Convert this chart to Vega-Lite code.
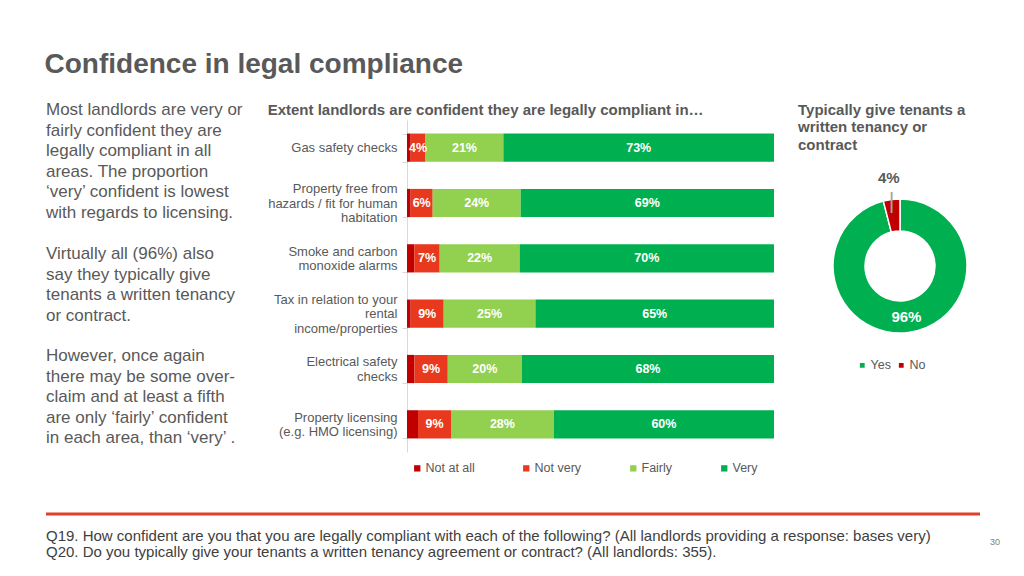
{
  "$schema": "https://vega.github.io/schema/vega-lite/v6.json",
  "background": "white",
  "padding": {"left": 44, "top": 50, "right": 0, "bottom": 0},
  "title": {"text": "Confidence in legal compliance", "anchor": "start", "fontSize": 28, "fontWeight": "bold", "color": "#595959", "offset": 22.5, "font": "Liberation Sans"},
  "config": {"view": {"stroke": null}, "font": "Liberation Sans"},
  "spacing": 394,
  "bounds": "flush",
  "vconcat": [
    {
      "bounds": "flush",
      "spacing": 26,
      "resolve": {"scale": {"color": "independent"}, "legend": {"color": "independent"}},
      "hconcat": [
        {
          "width": 335,
          "height": 332,
          "data": {"values": [
            {"para": 1, "note": "Most landlords are very or\nfairly confident they are\nlegally compliant in all\nareas. The proportion\n‘very’ confident is lowest\nwith regards to licensing."},
            {"para": 2, "note": "Virtually all (96%) also\nsay they typically give\ntenants a written tenancy\nor contract."},
            {"para": 3, "note": "However, once again\nthere may be some over-\nclaim and at least a fifth\nare only ‘fairly’ confident\nin each area, than ‘very’ ."}
          ]},
          "layer": [
            {
              "transform": [{"filter": "datum.para === 1"}],
              "mark": {"type": "text", "align": "left", "baseline": "alphabetic", "fontSize": 17, "lineHeight": 20.6, "lineBreak": "\n", "color": "#595959"},
              "encoding": {"text": {"field": "note"}, "x": {"value": 0}, "y": {"value": -5}}
            },
            {
              "transform": [{"filter": "datum.para === 2"}],
              "mark": {"type": "text", "align": "left", "baseline": "alphabetic", "fontSize": 17, "lineHeight": 20.6, "lineBreak": "\n", "color": "#595959"},
              "encoding": {"text": {"field": "note"}, "x": {"value": 0}, "y": {"value": 139}}
            },
            {
              "transform": [{"filter": "datum.para === 3"}],
              "mark": {"type": "text", "align": "left", "baseline": "alphabetic", "fontSize": 17, "lineHeight": 20.6, "lineBreak": "\n", "color": "#595959"},
              "encoding": {"text": {"field": "note"}, "x": {"value": 0}, "y": {"value": 241}}
            }
          ]
        },
        {
          "width": 367,
          "height": 332,
          "title": {"text": "Extent landlords are confident they are legally compliant in…", "anchor": "start", "frame": "bounds", "fontSize": 15, "fontWeight": "bold", "color": "#595959", "offset": -4},
          "data": {"values": [
            {"item": "Gas safety checks", "resp": "Not at all", "k": 1, "pct": 0.01},
            {"item": "Gas safety checks", "resp": "Not very", "k": 2, "pct": 0.04},
            {"item": "Gas safety checks", "resp": "Fairly", "k": 3, "pct": 0.21},
            {"item": "Gas safety checks", "resp": "Very", "k": 4, "pct": 0.73},
            {"item": "Property free from|hazards / fit for human|habitation", "resp": "Not at all", "k": 1, "pct": 0.01},
            {"item": "Property free from|hazards / fit for human|habitation", "resp": "Not very", "k": 2, "pct": 0.06},
            {"item": "Property free from|hazards / fit for human|habitation", "resp": "Fairly", "k": 3, "pct": 0.24},
            {"item": "Property free from|hazards / fit for human|habitation", "resp": "Very", "k": 4, "pct": 0.69},
            {"item": "Smoke and carbon|monoxide alarms", "resp": "Not at all", "k": 1, "pct": 0.02},
            {"item": "Smoke and carbon|monoxide alarms", "resp": "Not very", "k": 2, "pct": 0.07},
            {"item": "Smoke and carbon|monoxide alarms", "resp": "Fairly", "k": 3, "pct": 0.22},
            {"item": "Smoke and carbon|monoxide alarms", "resp": "Very", "k": 4, "pct": 0.70},
            {"item": "Tax in relation to your|rental|income/properties", "resp": "Not at all", "k": 1, "pct": 0.01},
            {"item": "Tax in relation to your|rental|income/properties", "resp": "Not very", "k": 2, "pct": 0.09},
            {"item": "Tax in relation to your|rental|income/properties", "resp": "Fairly", "k": 3, "pct": 0.25},
            {"item": "Tax in relation to your|rental|income/properties", "resp": "Very", "k": 4, "pct": 0.65},
            {"item": "Electrical safety|checks", "resp": "Not at all", "k": 1, "pct": 0.02},
            {"item": "Electrical safety|checks", "resp": "Not very", "k": 2, "pct": 0.09},
            {"item": "Electrical safety|checks", "resp": "Fairly", "k": 3, "pct": 0.20},
            {"item": "Electrical safety|checks", "resp": "Very", "k": 4, "pct": 0.68},
            {"item": "Property licensing|(e.g. HMO licensing)", "resp": "Not at all", "k": 1, "pct": 0.03},
            {"item": "Property licensing|(e.g. HMO licensing)", "resp": "Not very", "k": 2, "pct": 0.09},
            {"item": "Property licensing|(e.g. HMO licensing)", "resp": "Fairly", "k": 3, "pct": 0.28},
            {"item": "Property licensing|(e.g. HMO licensing)", "resp": "Very", "k": 4, "pct": 0.60}
          ]},
          "encoding": {
            "y": {"field": "item", "type": "nominal", "sort": null,
                  "scale": {"paddingInner": 0.49, "paddingOuter": 0.245},
                  "axis": {"title": null, "labelExpr": "isValid(datum.value) ? split(datum.value, '|') : ''",
                           "labelOffset": {"condition": [
                             {"test": "isValid(datum.value) && length(split(datum.value, '|')) === 3", "value": -14.5},
                             {"test": "isValid(datum.value) && length(split(datum.value, '|')) === 2", "value": -7.25}
                           ], "value": 0},
                           "labelFontSize": 13, "labelColor": "#595959", "labelLineHeight": 14.5, "labelPadding": 5, "tickSize": 5, "tickBand": "extent", "tickColor": "#d9d9d9", "domainColor": "#d9d9d9", "labelLimit": 220}},
            "x": {"field": "pct", "type": "quantitative", "stack": "normalize", "axis": null, "scale": {"domain": [0, 1], "nice": false}},
            "order": {"field": "k", "type": "quantitative"}
          },
          "layer": [
            {
              "mark": {"type": "bar"},
              "encoding": {
                "color": {"field": "resp", "type": "nominal",
                  "scale": {"domain": ["Not at all", "Not very", "Fairly", "Very"], "range": ["#c00000", "#e8391e", "#92d050", "#00b050"]},
                  "legend": {"orient": "none", "legendX": 4, "legendY": 342, "direction": "horizontal", "title": null, "symbolType": "square", "symbolSize": 40, "labelFontSize": 12.5, "labelColor": "#595959", "columnPadding": 45, "labelOffset": 2}}
              }
            },
            {
              "mark": {"type": "text", "color": "white", "fontWeight": "bold", "fontSize": 12.5},
              "encoding": {
                "x": {"field": "pct", "type": "quantitative", "stack": "normalize", "bandPosition": 0.5},
                "detail": {"field": "resp"},
                "text": {"condition": {"test": "datum.resp === 'Not at all'", "value": ""}, "field": "pct", "type": "quantitative", "format": ".0%"}
              }
            }
          ]
        },
        {
          "width": 200,
          "height": 292,
          "title": {"text": ["Typically give tenants a", "written tenancy or", "contract"], "anchor": "start", "frame": "group", "dx": -2, "fontSize": 15, "fontWeight": "bold", "color": "#595959", "lineHeight": 17.5, "offset": -32.5},
          "data": {"values": [{"answer": "Yes", "share": 0.96}, {"answer": "No", "share": 0.04}]},
          "encoding": {
            "theta": {"field": "share", "type": "quantitative", "stack": true},
            "order": {"field": "answer", "type": "ordinal", "sort": "descending"}
          },
          "layer": [
            {
              "mark": {"type": "arc", "outerRadius": 67, "innerRadius": 35, "stroke": "white", "strokeWidth": 1.5},
              "encoding": {
                "color": {"field": "answer", "type": "nominal",
                  "scale": {"domain": ["Yes", "No"], "range": ["#00b050", "#c00000"]},
                  "legend": {"orient": "none", "legendX": 56, "legendY": 239, "direction": "horizontal", "title": null, "symbolType": "square", "symbolSize": 40, "labelFontSize": 12.5, "labelColor": "#595959", "columnPadding": 4, "labelOffset": 2}}
              }
            },
            {
              "mark": {"type": "text", "radius": 66, "fontSize": 22, "color": "#a6a6a6", "baseline": "middle"},
              "encoding": {
                "detail": {"field": "answer"},
                "text": {"condition": {"test": "datum.answer === 'No'", "value": "|"}, "value": ""}
              }
            },
            {
              "mark": {"type": "text", "radius": 89, "fontSize": 15, "fontWeight": "bold", "color": "#595959"},
              "encoding": {
                "detail": {"field": "answer"},
                "text": {"condition": {"test": "datum.answer !== 'No'", "value": ""}, "field": "share", "type": "quantitative", "format": ".0%"}
              }
            },
            {
              "mark": {"type": "text", "radius": 51, "fontSize": 15, "fontWeight": "bold", "color": "white"},
              "encoding": {
                "detail": {"field": "answer"},
                "text": {"condition": {"test": "datum.answer !== 'Yes'", "value": ""}, "field": "share", "type": "quantitative", "format": ".0%"}
              }
            }
          ]
        }
      ]
    },
    {
      "width": 934,
      "height": 40,
      "data": {"values": [{"q": "Q19. How confident are you that you are legally compliant with each of the following? (All landlords providing a response: bases very)\nQ20. Do you typically give your tenants a written tenancy agreement or contract? (All landlords: 355).", "page": "30"}]},
      "layer": [
        {"mark": {"type": "rule", "color": "#e0402a", "strokeWidth": 3}, "encoding": {"y": {"value": 0}}},
        {"mark": {"type": "text", "align": "left", "baseline": "alphabetic", "fontSize": 15, "lineHeight": 16, "lineBreak": "\n", "color": "#404040"}, "encoding": {"text": {"field": "q"}, "x": {"value": 0}, "y": {"value": 27}}},
        {"mark": {"type": "text", "align": "left", "baseline": "middle", "fontSize": 9, "color": "#808080"}, "encoding": {"text": {"field": "page"}, "x": {"value": 944}, "y": {"value": 28}}}
      ]
    }
  ]
}
